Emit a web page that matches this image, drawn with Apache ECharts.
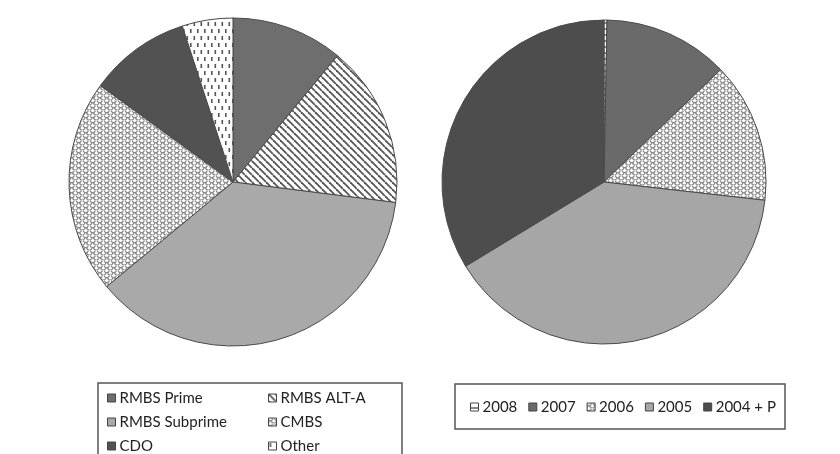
<!DOCTYPE html>
<html><head><meta charset="utf-8">
<script src="https://cdn.jsdelivr.net/npm/echarts@6/dist/echarts.min.js"></script>
<style>html,body{margin:0;padding:0;background:#fff}#c{width:840px;height:454px}</style>
</head><body><div id="c"></div>
<script>
const leftNames = ['RMBS Prime','RMBS ALT-A','RMBS Subprime','CMBS','CDO','Other'];
const leftValues = [11,16,37,21,10,5];
const rightNames = ['2008','2007','2006','2005','2004 + P'];
const rightValues = [0.3,12.5,14,39.5,33.7];
const legendColA = ['RMBS Prime','RMBS Subprime','CDO'];
const legendColB = ['RMBS ALT-A','CMBS','Other'];

function tile(w,h,draw){const c=document.createElement('canvas');c.width=w;c.height=h;const g=c.getContext('2d');g.fillStyle='#fff';g.fillRect(0,0,w,h);draw(g,w,h);return {image:c,repeat:'repeat'};}
const stripes = tile(7,7,(g,w,h)=>{g.strokeStyle='#555';g.lineWidth=1.8;for(const o of [-7,0,7]){g.beginPath();g.moveTo(o,0);g.lineTo(o+7,7);g.stroke();}});
const scallop = tile(7,5,(g,w,h)=>{g.strokeStyle='#8a8a8a';g.lineWidth=1.3;const arcs=[[1.75,0],[5.25,2.5],[-1.75,2.5],[8.75,0],[1.75,5],[8.75,5]];for(const [x,y] of arcs){g.beginPath();g.arc(x,y,2.6,0.05*Math.PI,0.95*Math.PI);g.stroke();}});
const dashes = tile(7,14,(g,w,h)=>{g.fillStyle='#555';g.fillRect(1,1,1.6,4);g.fillRect(4.5,8,1.6,4);});
const dashLine = tile(4,6,(g,w,h)=>{g.fillStyle='#888';g.fillRect(0,4,4,2);});

const leftColors = ['#6e6e6e',stripes,'#a9a9a9',scallop,'#525252',dashes];
const rightColors = [dashLine,'#6a6a6a',scallop,'#a6a6a6','#4d4d4d'];

const font = 'Lato';
const legendBase = {icon:'rect',itemWidth:8,itemHeight:8,textStyle:{fontFamily:font,fontSize:15,color:'#222',lineHeight:16,padding:[0,0,0,-1]},itemStyle:{borderColor:'#444',borderWidth:1},selectedMode:false,padding:0};

const chart = echarts.init(document.getElementById('c'),null,{renderer:'canvas'});
chart.setOption({
  animation:false,
  backgroundColor:'#fff',
  graphic:[
    {type:'rect',shape:{x:98,y:383,width:304,height:90},style:{fill:'none',stroke:'#555',lineWidth:1.5},z:-1},
    {type:'rect',shape:{x:455,y:384,width:330,height:45},style:{fill:'none',stroke:'#555',lineWidth:1.5},z:-1}
  ],
  legend:[
    Object.assign({},legendBase,{data:legendColA,orient:'vertical',left:107,top:390,itemGap:8}),
    Object.assign({},legendBase,{data:legendColB,orient:'vertical',left:268,top:390,itemGap:8}),
    Object.assign({},legendBase,{data:rightNames,orient:'horizontal',left:470,top:399,itemGap:11})
  ],
  series:[
    {type:'pie',center:[233,182],radius:[0,164],startAngle:90,clockwise:true,label:{show:false},labelLine:{show:false},silent:true,
     itemStyle:{borderColor:'#4a4a4a',borderWidth:1},
     data:leftNames.map((n,i)=>({name:n,value:leftValues[i],itemStyle:{color:leftColors[i]}}))},
    {type:'pie',center:[604,182],radius:[0,162],startAngle:90,clockwise:true,label:{show:false},labelLine:{show:false},silent:true,minAngle:0,
     itemStyle:{borderColor:'#4a4a4a',borderWidth:1},
     data:rightNames.map((n,i)=>({name:n,value:rightValues[i],itemStyle:{color:rightColors[i]}}))}
  ]
});
</script></body></html>
